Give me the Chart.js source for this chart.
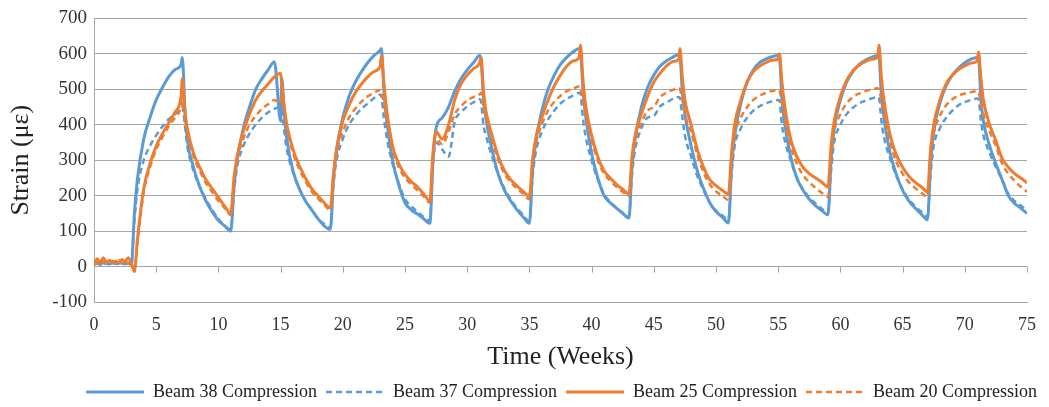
<!DOCTYPE html>
<html>
<head>
<meta charset="utf-8">
<script src="https://cdn.jsdelivr.net/npm/chart.js@4/dist/chart.umd.min.js"></script>
<style>
  html, body { margin: 0; padding: 0; background: #fff; }
  #wrap { width: 1049px; height: 407px; }
</style>
</head>
<body>
<div id="wrap"><canvas id="strainChart"></canvas></div>
<script>
// time in weeks, shared by all four gauges
const weeks = [
  0, 0.25, 0.5, 0.75, 1, 1.25, 1.5, 1.75, 2, 2.25, 2.5, 2.75,
  3, 3.25, 3.5, 4, 4.5, 5, 5.5, 6, 6.5, 7, 7.1, 7.3, 7.5, 8, 8.5, 9, 9.5, 10, 10.5,
  11, 11.25, 11.5, 12, 12.5, 13, 13.5, 14, 14.5, 15, 15.1, 15.3, 15.5, 16, 16.5, 17, 17.5, 18, 18.5,
  19, 19.25, 19.5, 20, 20.5, 21, 21.5, 22, 22.5, 23, 23.1, 23.3, 23.5, 24, 24.5, 25, 25.5, 26, 26.5,
  27, 27.25, 27.5, 28, 28.5, 29, 29.5, 30, 30.5, 31, 31.1, 31.3, 31.5, 32, 32.5, 33, 33.5, 34, 34.5,
  35, 35.25, 35.5, 36, 36.5, 37, 37.5, 38, 38.5, 39, 39.1, 39.3, 39.5, 40, 40.5, 41, 41.5, 42, 42.5,
  43, 43.25, 43.5, 44, 44.5, 45, 45.5, 46, 46.5, 47, 47.1, 47.3, 47.5, 48, 48.5, 49, 49.5, 50, 50.5,
  51, 51.25, 51.5, 52, 52.5, 53, 53.5, 54, 54.5, 55, 55.1, 55.3, 55.5, 56, 56.5, 57, 57.5, 58, 58.5,
  59, 59.25, 59.5, 60, 60.5, 61, 61.5, 62, 62.5, 63, 63.1, 63.3, 63.5, 64, 64.5, 65, 65.5, 66, 66.5,
  67, 67.25, 67.5, 68, 68.5, 69, 69.5, 70, 70.5, 71, 71.1, 71.3, 71.5, 72, 72.5, 73, 73.5, 74, 74.5,
  75
];

const beam38 = [
  8, 10, 6, 12, 9, 7, 10, 8, 11, 9, 7, 10,
  5, 150, 250, 360, 420, 470, 505, 535, 555, 570, 590, 450, 360, 280, 225, 185, 155, 130, 115,
  100, 220, 300, 390, 450, 500, 530, 555, 578, 410, 530, 430, 360, 270, 220, 185, 160, 135, 115,
  105, 250, 330, 420, 480, 520, 550, 575, 595, 610, 615, 500, 420, 300, 230, 180, 160, 148, 135,
  122, 300, 390, 420, 450, 495, 530, 555, 575, 595, 590, 480, 420, 330, 260, 215, 185, 160, 140,
  122, 270, 350, 440, 500, 540, 570, 590, 605, 615, 612, 500, 430, 320, 250, 200, 180, 165, 150,
  137, 280, 360, 450, 505, 540, 565, 580, 590, 598, 595, 490, 430, 340, 270, 220, 180, 155, 140,
  123, 280, 370, 460, 520, 555, 575, 585, 592, 595, 592, 470, 410, 310, 250, 215, 190, 172, 158,
  146, 300, 390, 470, 520, 550, 570, 582, 590, 596, 593, 480, 420, 320, 260, 215, 185, 165, 148,
  132, 290, 380, 460, 510, 540, 560, 575, 585, 590, 588, 470, 410, 340, 290, 245, 200, 178, 165,
  150
];

const beam37 = [
  6, 8, 10, 7, 9, 11, 8, 10, 7, 9, 10, 8,
  5, 130, 220, 300, 340, 370, 395, 415, 430, 445, 450, 400, 340, 270, 225, 190, 160, 135, 115,
  105, 210, 280, 340, 375, 400, 420, 435, 445, 450, 440, 380, 330, 265, 220, 185, 160, 135, 120,
  110, 230, 300, 360, 400, 425, 445, 460, 475, 485, 480, 420, 370, 290, 235, 190, 170, 155, 140,
  130, 290, 350, 330, 310, 410, 435, 452, 463, 472, 468, 400, 370, 310, 260, 220, 190, 165, 145,
  128, 250, 320, 380, 415, 440, 460, 473, 482, 490, 488, 420, 370, 300, 245, 205, 182, 165, 152,
  142, 260, 330, 390, 420, 425, 452, 462, 472, 478, 475, 420, 370, 310, 255, 215, 180, 158, 145,
  130, 260, 340, 390, 420, 440, 452, 460, 466, 470, 468, 400, 360, 300, 250, 218, 195, 178, 163,
  152, 270, 350, 400, 430, 448, 460, 468, 474, 478, 476, 410, 365, 305, 255, 218, 190, 170, 155,
  140, 260, 340, 390, 420, 440, 455, 464, 470, 474, 472, 410, 370, 320, 280, 245, 205, 185, 172,
  158
];

const beam25 = [
  5, 22, 12, 25, 10, 18, 12, 15, 10, 20, 14, 25,
  8, -12, 80, 220, 290, 340, 375, 405, 435, 480, 530, 440, 390, 320, 280, 245, 220, 195, 170,
  150, 250, 310, 380, 430, 470, 495, 515, 535, 545, 510, 450, 400, 330, 285, 250, 220, 200, 180,
  165, 260, 330, 410, 455, 490, 515, 535, 550, 565, 595, 520, 450, 340, 290, 260, 240, 225, 205,
  185, 320, 380, 360, 400, 470, 515, 540, 558, 575, 590, 500, 440, 370, 310, 270, 245, 228, 212,
  198, 300, 360, 420, 470, 510, 540, 565, 580, 590, 625, 530, 460, 370, 310, 270, 250, 232, 218,
  205, 310, 370, 430, 480, 520, 545, 565, 578, 585, 615, 530, 470, 400, 330, 280, 245, 228, 215,
  205, 320, 400, 470, 520, 550, 565, 575, 582, 585, 600, 520, 460, 360, 310, 280, 262, 250, 238,
  225, 340, 410, 480, 525, 552, 568, 578, 585, 590, 625, 530, 470, 370, 315, 280, 255, 238, 225,
  211, 330, 400, 470, 515, 540, 556, 566, 574, 580, 605, 530, 470, 400, 355, 305, 280, 262, 250,
  236
];

const beam20 = [
  10, 8, 20, 12, 15, 10, 16, 12, 18, 10, 15, 8,
  8, -15, 70, 210, 280, 330, 365, 395, 420, 450, 470, 420, 375, 310, 270, 235, 210, 185, 165,
  145, 245, 300, 360, 400, 425, 445, 458, 470, 460, 500, 440, 390, 320, 275, 240, 212, 192, 175,
  160, 250, 320, 380, 420, 445, 465, 480, 490, 498, 495, 460, 420, 330, 280, 250, 232, 215, 198,
  180, 310, 360, 345, 380, 430, 452, 468, 478, 486, 490, 450, 420, 355, 300, 262, 238, 220, 205,
  190, 290, 345, 400, 440, 465, 482, 495, 502, 508, 505, 470, 430, 355, 300, 262, 242, 225, 210,
  198, 300, 355, 405, 440, 450, 478, 490, 498, 503, 500, 470, 430, 380, 315, 265, 232, 212, 200,
  188, 300, 370, 420, 450, 470, 482, 490, 495, 498, 496, 460, 420, 340, 290, 258, 238, 222, 208,
  197, 310, 380, 430, 460, 478, 488, 495, 500, 503, 500, 470, 430, 350, 295, 262, 238, 222, 208,
  197, 310, 375, 425, 455, 472, 482, 488, 492, 495, 493, 460, 430, 380, 340, 290, 262, 242, 225,
  211
];

const seriesNames = ['Beam 38 Compression', 'Beam 37 Compression', 'Beam 25 Compression', 'Beam 20 Compression'];

const BLUE = '#5b9bd5';
const ORANGE = '#ed7d31';
const GRID = '#a6a6a6';
const SERIF = '"Liberation Serif", "DejaVu Serif", serif';

function toPoints(values) {
  return values.map((v, i) => ({ x: weeks[i], y: v }));
}

// little downward tick marks on the zero line, like the Excel axis
const zeroAxisTicks = {
  id: 'zeroAxisTicks',
  afterLayout(chart) {
    // the legend row sits a bit lower and to the right in the original
    const lg = chart.legend;
    lg.top += 4;
    lg.bottom += 4;
    lg.left += 48;
    lg.right += 48;
  },
  beforeDatasetsDraw(chart) {
    const { ctx, scales: { x, y } } = chart;
    const y0 = y.getPixelForValue(0);
    ctx.save();
    ctx.strokeStyle = GRID;
    ctx.lineWidth = 1;
    ctx.beginPath();
    x.ticks.forEach(t => {
      const px = Math.round(x.getPixelForValue(t.value)) + 0.5;
      ctx.moveTo(px, y0);
      ctx.lineTo(px, y0 + 6);
    });
    ctx.stroke();
    ctx.restore();
  }
};

const datasets = [
  { label: seriesNames[0], data: toPoints(beam38), borderColor: BLUE, borderWidth: 3, order: 2 },
  { label: seriesNames[1], data: toPoints(beam37), borderColor: BLUE, borderWidth: 2.5, borderDash: [6, 4], order: 2 },
  { label: seriesNames[2], data: toPoints(beam25), borderColor: ORANGE, borderWidth: 3, order: 1 },
  { label: seriesNames[3], data: toPoints(beam20), borderColor: ORANGE, borderWidth: 2.5, borderDash: [6, 4], order: 1 }
].map(d => Object.assign(d, {
  backgroundColor: d.borderColor,
  pointRadius: 0,
  fill: false,
  cubicInterpolationMode: 'monotone'
}));

new Chart(document.getElementById('strainChart'), {
  type: 'line',
  data: { datasets },
  plugins: [zeroAxisTicks],
  options: {
    responsive: true,
    maintainAspectRatio: false,
    animation: false,
    layout: { padding: { top: 11, right: 22, left: 0, bottom: 0 } },
    plugins: {
      tooltip: { enabled: false },
      legend: {
        position: 'bottom',
        labels: {
          boxWidth: 58,
          boxHeight: 0,
          padding: 9,
          color: '#222',
          font: { family: SERIF, size: 18 },
          sort: (a, b) => a.datasetIndex - b.datasetIndex
        }
      }
    },
    scales: {
      x: {
        type: 'linear',
        min: 0,
        max: 75,
        afterFit(scale) { scale.height = 68; },
        ticks: { stepSize: 5, color: '#333', font: { family: SERIF, size: 18 }, padding: 12 },
        grid: { display: false, drawTicks: false },
        border: { display: true, color: GRID, width: 1 },
        title: { display: true, text: 'Time (Weeks)', color: '#222', font: { family: SERIF, size: 26 }, padding: { top: 0, bottom: -3 } }
      },
      y: {
        min: -100,
        max: 700,
        afterFit(scale) { scale.width = 94; },
        ticks: { stepSize: 100, color: '#333', font: { family: SERIF, size: 19 }, padding: 7 },
        grid: { color: GRID, lineWidth: 1, drawTicks: false },
        border: { display: true, color: GRID, width: 1 },
        title: { display: true, text: 'Strain (με)', color: '#222', font: { family: SERIF, size: 26 }, padding: { top: 6, bottom: 0 } }
      }
    }
  }
});
</script>
</body>
</html>
